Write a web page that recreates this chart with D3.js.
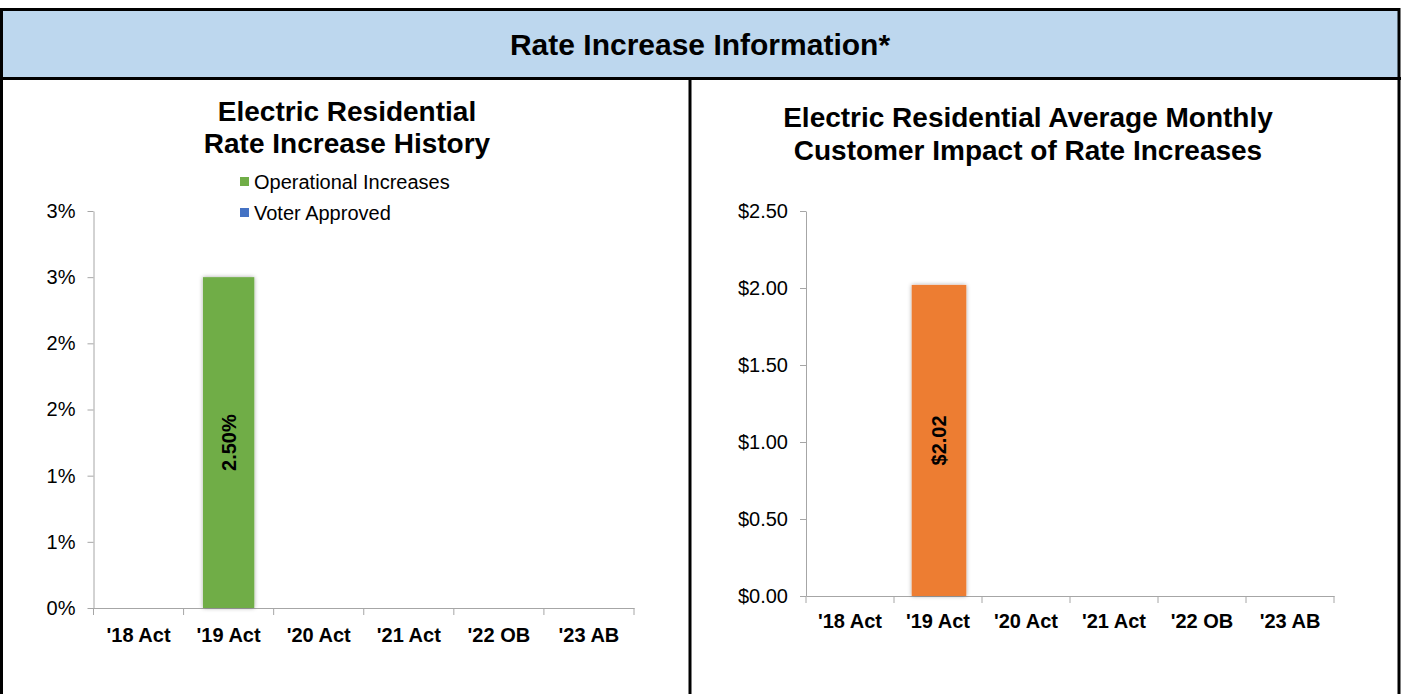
<!DOCTYPE html>
<html><head><meta charset="utf-8">
<script src="https://cdn.jsdelivr.net/npm/d3@7"></script>
<style>
html,body{margin:0;padding:0;background:#fff;}
svg{display:block;font-family:"Liberation Sans",Arial,sans-serif;}
</style></head>
<body>
<svg id="c" width="1401" height="694"></svg>
<script>
const categories = ["'18 Act","'19 Act","'20 Act","'21 Act","'22 OB","'23 AB"];
const operationalIncreases = [0, 2.50, 0, 0, 0, 0];
const voterApproved = [0, 0, 0, 0, 0, 0];
const monthlyImpact = [0, 2.02, 0, 0, 0, 0];
const leftTicks = [0, 0.5, 1, 1.5, 2, 2.5, 3];
const leftTickLabels = ["0%","1%","1%","2%","2%","3%","3%"];
const rightTicks = [0, 0.5, 1, 1.5, 2, 2.5];
const rightTickLabels = ["$0.00","$0.50","$1.00","$1.50","$2.00","$2.50"];
const legendItems = ["Operational Increases","Voter Approved"];
const legendColors = ["#70AD47","#4472C4"];

const svg = d3.select("#c");
const defs = svg.append("defs");
const f = defs.append("filter").attr("id","sh").attr("x","-20%").attr("y","-5%").attr("width","140%").attr("height","110%");
f.append("feDropShadow").attr("dx",0).attr("dy",0).attr("stdDeviation",2).attr("flood-color","#000").attr("flood-opacity",0.35);

// header
svg.append("rect").attr("x",1.5).attr("y",9.5).attr("width",1397.5).attr("height",69).attr("fill","#BDD7EE");
svg.append("text").attr("x",700).attr("y",55).attr("text-anchor","middle")
  .attr("font-size",30).attr("font-weight","bold").text("Rate Increase Information*");
// borders
svg.append("rect").attr("x",1.5).attr("y",9.5).attr("width",1397.5).attr("height",700)
  .attr("fill","none").attr("stroke","#000").attr("stroke-width",3);
svg.append("line").attr("x1",0).attr("x2",1401).attr("y1",78.5).attr("y2",78.5).attr("stroke","#000").attr("stroke-width",3);
svg.append("line").attr("x1",690).attr("x2",690).attr("y1",78).attr("y2",694).attr("stroke","#000").attr("stroke-width",3);

const axisColor = "#A6A6A6";

function drawChart(o){
  const g = svg.append("g");
  const x = d3.scaleBand().domain(categories).range([o.x0,o.x1]).paddingInner(0).paddingOuter(0);
  const y = d3.scaleLinear().domain([0,o.max]).range([o.y0,o.y1]);
  // titles
  o.title.forEach((t,i)=>{
    g.append("text").attr("x",o.tx).attr("y",o.ty+i*o.tdy).attr("text-anchor","middle")
      .attr("font-size",28).attr("font-weight","bold").text(t);
  });
  // y axis
  const ya = d3.axisLeft(y).tickValues(o.ticks).tickFormat((d,i)=>o.labels[i]).tickSize(6).tickSizeOuter(0);
  const yg = g.append("g").attr("transform",`translate(${o.x0},0)`).call(ya);
  yg.select(".domain").attr("stroke",axisColor);
  yg.selectAll(".tick line").attr("stroke",axisColor);
  yg.selectAll(".tick text").attr("font-size",20).attr("fill","#000").attr("x",-18)
    .attr("font-family","'Liberation Sans',Arial,sans-serif");
  // x axis
  const xa = d3.axisBottom(x).tickSize(0).tickSizeOuter(0);
  const xg = g.append("g").attr("transform",`translate(0,${o.y0})`).call(xa);
  xg.select(".domain").attr("stroke",axisColor);
  xg.selectAll(".tick text").attr("font-size",20).attr("font-weight","bold").attr("fill","#000")
    .attr("y",o.xly).attr("dy",0)
    .attr("font-family","'Liberation Sans',Arial,sans-serif");
  const bounds = categories.map(c=>x(c)).concat([o.x1]);
  g.selectAll(".xt").data(bounds).join("line").attr("class","xt")
    .attr("x1",d=>d).attr("x2",d=>d).attr("y1",o.y0).attr("y2",o.y0+7).attr("stroke",axisColor);
  // bars
  const bw = x.bandwidth()*o.bwFrac;
  o.series.forEach(s=>{
    const data = s.values.map((v,i)=>({v,c:categories[i]})).filter(d=>d.v>0);
    g.selectAll(null).data(data).join("rect")
      .attr("x",d=>x(d.c)+(x.bandwidth()-bw)/2+o.shift).attr("width",bw)
      .attr("y",d=>y(d.v)).attr("height",d=>o.y0-y(d.v))
      .attr("fill",s.color).attr("filter","url(#sh)");
    g.selectAll(null).data(data).join("text")
      .attr("transform",d=>`translate(${x(d.c)+x.bandwidth()/2+o.shift+7},${(y(d.v)+o.y0)/2}) rotate(-90)`)
      .attr("text-anchor","middle").attr("font-size",20).attr("font-weight","bold").attr("fill","#000")
      .text(d=>s.fmt(d.v));
  });
}

drawChart({x0:93.5,x1:634,y0:608,y1:211,max:3,ticks:leftTicks,labels:leftTickLabels,
  title:["Electric Residential","Rate Increase History"],tx:347,ty:121,tdy:32,bwFrac:0.57,shift:0,xly:34,
  series:[{values:operationalIncreases,color:"#70AD47",fmt:v=>v.toFixed(2)+"%"},
          {values:voterApproved,color:"#4472C4",fmt:v=>v.toFixed(2)+"%"}]});
drawChart({x0:806,x1:1334,y0:596,y1:211,max:2.5,ticks:rightTicks,labels:rightTickLabels,
  title:["Electric Residential Average Monthly","Customer Impact of Rate Increases"],tx:1028,ty:127,tdy:33,bwFrac:0.62,shift:1,xly:32,
  series:[{values:monthlyImpact,color:"#ED7D31",fmt:v=>"$"+v.toFixed(2)}]});

// legend
const lg = svg.append("g");
legendItems.forEach((t,i)=>{
  lg.append("rect").attr("x",240).attr("y",177+i*31).attr("width",9).attr("height",9).attr("fill",legendColors[i]);
  lg.append("text").attr("x",254).attr("y",189+i*31).attr("font-size",20).text(t);
});
</script>
</body></html>
